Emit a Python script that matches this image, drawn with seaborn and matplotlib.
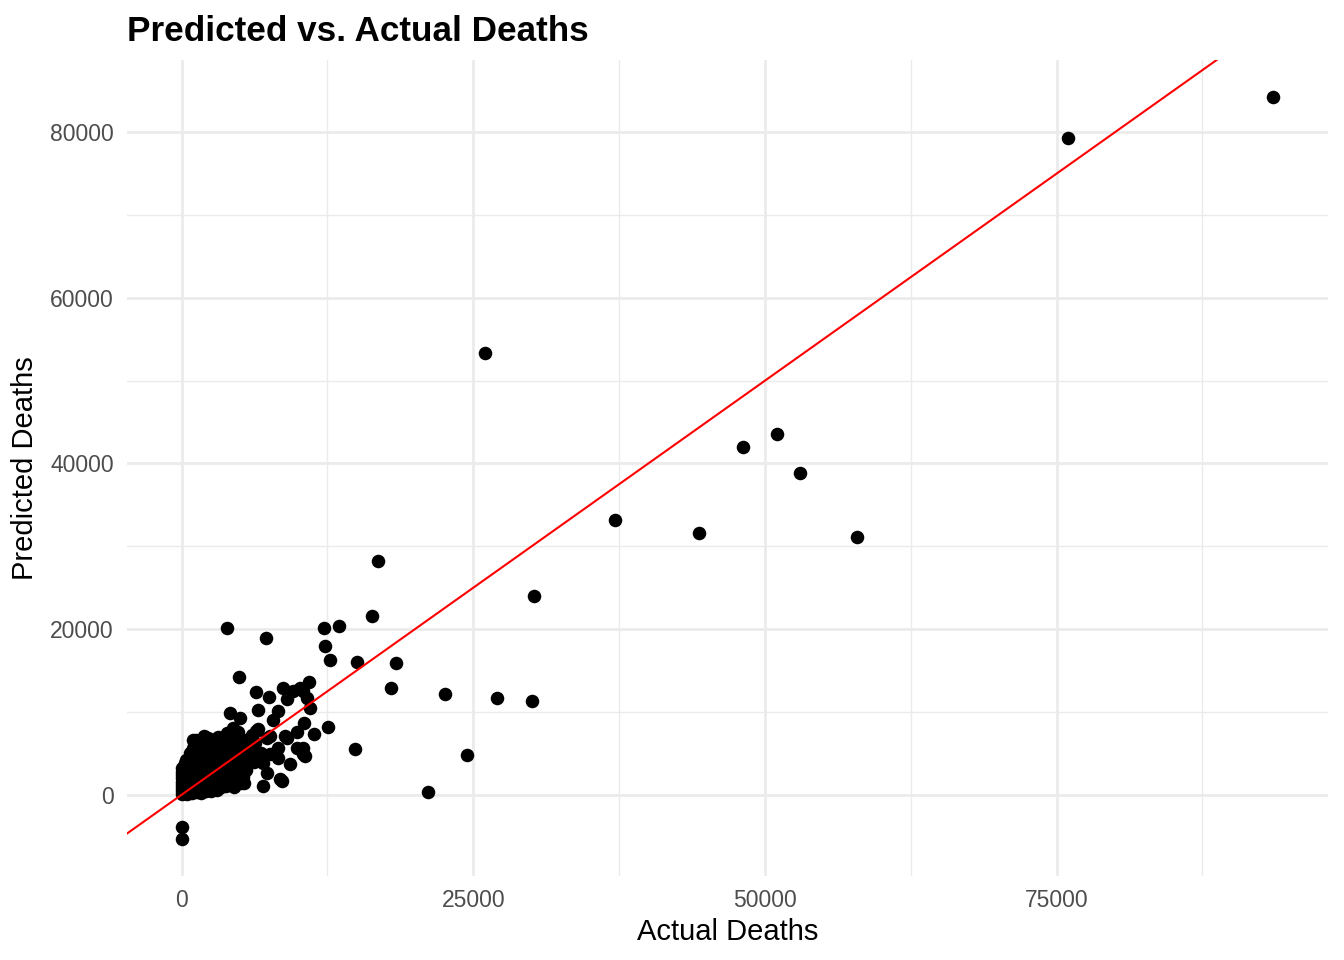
import matplotlib
matplotlib.use("Agg")
import matplotlib.pyplot as plt
import numpy as np
import pandas as pd
import seaborn as sns
from matplotlib.ticker import MultipleLocator

# Data: dense cluster near the origin
cluster_actual = [
    0, 0, 0, 0, 0, 0, 0, 0, 0,
    100, 150, 200, 250, 300, 350, 400, 450, 500, 550, 600, 650, 700, 750, 800, 850,
    900, 950, 1000, 1050, 1100, 1150, 1200, 1250, 1300, 1350, 1400, 1450, 1500, 1550,
    1600, 1700, 1800, 1900, 2000, 2100, 2200, 2300, 2400, 2500, 2600, 2700, 2800, 2900,
    3000, 3100, 3200, 3300, 3400, 3500, 3600, 3700, 3800, 3900, 4000, 4100, 4200, 4300,
    4400, 4500, 4600, 4700, 4800, 4900, 5000, 5200, 5400, 5100, 5300, 5500, 5700, 5900,
    6100, 6300, 6000, 6800, 400, 700, 1000, 300, 1200, 1800, 2300, 2800, 3100, 3400,
    3900, 4400, 4800, 200, 500, 900, 1300, 1700, 2100, 2500, 3000, 3400, 3800, 4200,
    100, 300, 600, 800, 1100, 1500, 1900, 2200, 2400, 2700, 3200, 3500, 3700, 4300,
    4600, 4900, 5600, 5800, 6200, 6600, 7000,
]
cluster_predicted = [
    100, 400, 800, 1200, 1600, 2000, 2400, 2800, 3200,
    300, 900, 1500, 2100, 2700, 3300, 600, 1200, 1800, 2400, 3000, 3600, 300, 900, 1500, 2100,
    2700, 3300, 3900, 4500, 600, 1200, 1800, 2400, 3000, 3600, 4200, 4800, 5400, 6000,
    900, 1500, 2100, 2700, 3300, 3900, 4500, 5100, 5700, 6300, 1200, 1800, 2400, 3000,
    3600, 4200, 4800, 5400, 6000, 6600, 1500, 2100, 2700, 3300, 3900, 4500, 5100, 5700,
    6300, 900, 1800, 2600, 3400, 4200, 5000, 5800, 6600, 1400, 2200, 3000, 3800, 4600,
    5400, 6200, 7200, 5000, 4200, 5000, 5600, 3800, 6600, 6200, 6900, 6500, 7000, 6900,
    7400, 7000, 7600, 200, 100, 200, 300, 200, 400, 500, 600, 900, 1100, 1300,
    1100, 1900, 2200, 3700, 3100, 2500, 1400, 1000, 3100, 3800, 2300, 4400, 5000, 3600,
    4500, 3000, 4300, 5800, 3900, 4200, 3800,
]

# Mid-range points
mid_actual = [
    942, 1884, 3168, 4110, 4966, 4366, 6507, 6336, 7449, 8733, 9589, 10188, 9075, 10959,
    10788, 11045, 8305, 7877, 10531, 6507, 9932, 11387, 9075, 7620, 9932, 10445, 10616,
    8305, 8305, 9332, 6764, 7363, 6935, 8647, 5308, 942, 3853, 7192, 10445, 10445, 6336,
    7363, 8904, 7620, 8476,
]
mid_predicted = [
    6659, 7143, 6901, 9927, 9322, 8111, 10291, 12470, 11864, 12833, 12591, 12833, 11622, 13559,
    11743, 10533, 10169, 9080, 8717, 7990, 7627, 7385, 6901, 7143, 5690, 5690, 4722,
    5690, 4479, 3753, 4479, 2663, 1090, 1695, 1453, 4964, 20097, 18886, 12591, 4964, 7746,
    6899, 7141, 4962, 1936,
]

# Large values
outlier_actual = [
    93579, 75942, 26027, 51027, 48116, 52997, 37158, 44349, 57877, 30223, 16866, 16353,
    13527, 12243, 12329, 12757, 15068, 18390, 4880, 17979, 22603, 27055, 30025, 12586,
    14897, 24486, 21147, 0, 0,
]
outlier_predicted = [
    84236, 79298, 53390, 43584, 42010, 38862, 33172, 31598, 31114, 23971, 28208, 21550,
    20339, 20097, 17918, 16223, 15981, 15860, 14165, 12833, 12228, 11743, 11380, 8232,
    5569, 4843, 363, -3874, -5327,
]

df = pd.DataFrame({
    "Actual": cluster_actual + mid_actual + outlier_actual,
    "Predicted": cluster_predicted + mid_predicted + outlier_predicted,
})

plt.rcParams["font.family"] = ["Liberation Sans", "DejaVu Sans"]

fig = plt.figure(figsize=(13.44, 9.6), dpi=100)
ax = fig.add_axes([127 / 1344, 1 - 876 / 960, (1328 - 127) / 1344, (876 - 60) / 960])

sns.scatterplot(data=df, x="Actual", y="Predicted", ax=ax, color="black",
                s=95, linewidth=0, zorder=3)
ax.axline((0, 0), slope=1, color="#FF0000", linewidth=1.5, zorder=4)

# ggplot-like 5% expansion
xr = df["Actual"].max() - df["Actual"].min()
yr = df["Predicted"].max() - df["Predicted"].min()
ax.set_xlim(df["Actual"].min() - 0.05 * xr, df["Actual"].max() + 0.05 * xr)
ax.set_ylim(df["Predicted"].min() - 0.05 * yr, df["Predicted"].max() + 0.05 * yr)

ax.xaxis.set_major_locator(MultipleLocator(25000))
ax.xaxis.set_minor_locator(MultipleLocator(12500))
ax.yaxis.set_major_locator(MultipleLocator(20000))
ax.yaxis.set_minor_locator(MultipleLocator(10000))
ax.grid(which="major", color="#EBEBEB", linewidth=2.0, zorder=0)
ax.grid(which="minor", color="#EBEBEB", linewidth=1.0, zorder=0)
ax.set_axisbelow(True)
for sp in ax.spines.values():
    sp.set_visible(False)
ax.tick_params(which="both", length=0, labelsize=16.5, labelcolor="#4D4D4D", pad=9.5)

ax.set_xlabel("Actual Deaths", fontsize=21, color="black", labelpad=4)
ax.set_ylabel("Predicted Deaths", fontsize=21, color="black", labelpad=8)
ax.set_title("Predicted vs. Actual Deaths", loc="left", fontsize=25.3, fontweight="bold",
             pad=14)

fig.savefig("out.png", dpi=100)
